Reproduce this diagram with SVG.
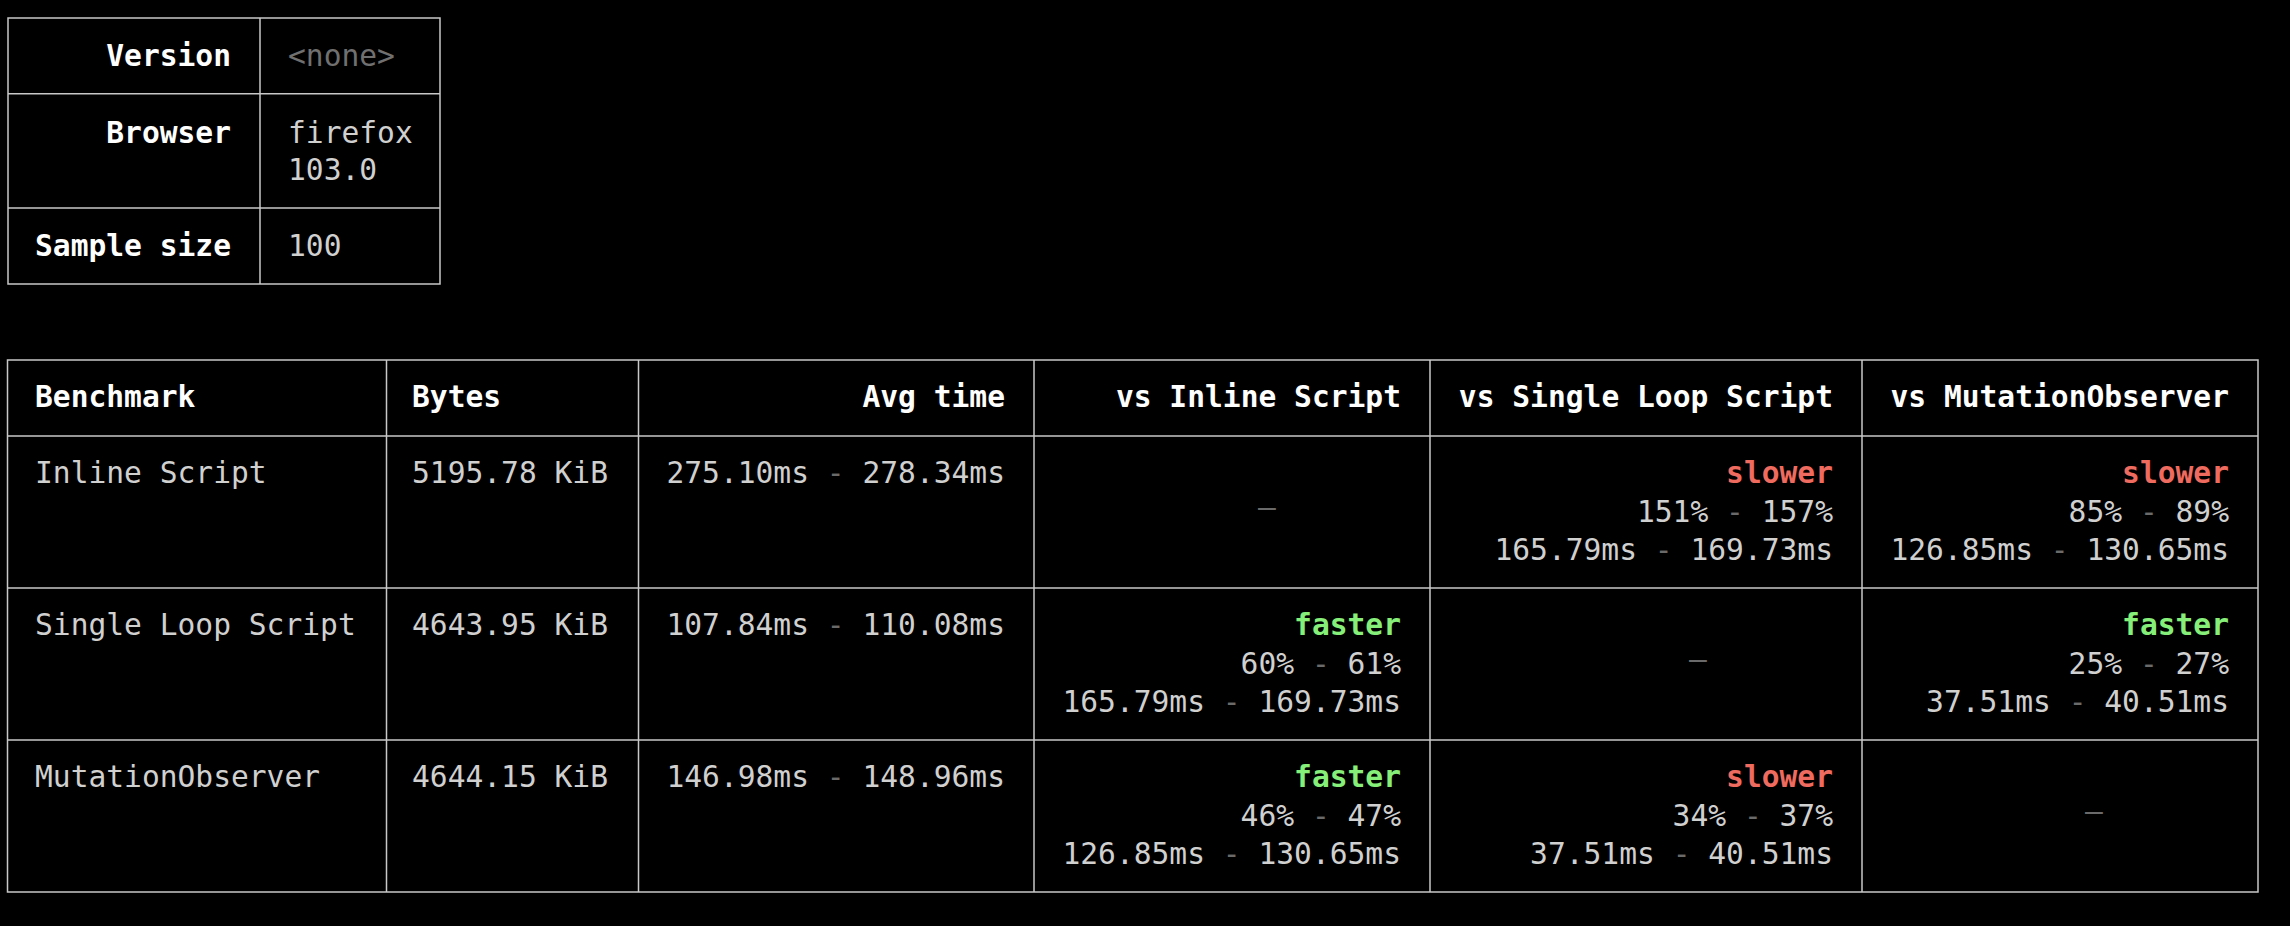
<svg xmlns="http://www.w3.org/2000/svg" width="2290" height="926" viewBox="0 0 2290 926">
<style>
text{font-family:"DejaVu Sans Mono","Liberation Mono",monospace;font-size:29.6px;fill:#d0d0d0}
.h{font-weight:bold;fill:#ffffff}
.r{text-anchor:end}
.m{text-anchor:middle}
.d{fill:#6a6a6a}
.dim{fill:#707070}
.f{font-weight:bold;fill:#86ef7a}
.s{font-weight:bold;fill:#ef6b5f}
.grid{stroke:#c8c8c8;stroke-width:1.5;fill:none}
</style>
<rect x="0" y="0" width="2290" height="926" fill="#000"/>

<g id="meta-table">
  <g class="grid">
    <rect x="8" y="18" width="432" height="266"/>
    <line x1="260" y1="18" x2="260" y2="284"/>
    <line x1="8" y1="93.7" x2="440" y2="93.7"/>
    <line x1="8" y1="208" x2="440" y2="208"/>
  </g>
  <g id="meta-version">
    <text class="h r" x="231" y="65.7">Version</text>
    <text class="dim" x="288" y="65.7">&lt;none&gt;</text>
  </g>
  <g id="meta-browser">
    <text class="h r" x="231" y="142.7">Browser</text>
    <text x="288" y="142.7">firefox</text>
    <text x="288" y="180">103.0</text>
  </g>
  <g id="meta-sample">
    <text class="h r" x="231" y="256">Sample size</text>
    <text x="288" y="256">100</text>
  </g>
</g>

<g id="results-table">
  <g class="grid">
    <rect x="7.5" y="360" width="2250.5" height="532"/>
    <line x1="386.5" y1="360" x2="386.5" y2="892"/>
    <line x1="638.5" y1="360" x2="638.5" y2="892"/>
    <line x1="1034" y1="360" x2="1034" y2="892"/>
    <line x1="1430" y1="360" x2="1430" y2="892"/>
    <line x1="1862" y1="360" x2="1862" y2="892"/>
    <line x1="7.5" y1="436" x2="2258" y2="436"/>
    <line x1="7.5" y1="588" x2="2258" y2="588"/>
    <line x1="7.5" y1="740" x2="2258" y2="740"/>
  </g>

  <g id="header-row">
    <text class="h" x="35" y="407.3">Benchmark</text>
    <text class="h" x="412" y="407.3">Bytes</text>
    <text class="h r" x="1005" y="407.3">Avg time</text>
    <text class="h r" x="1401" y="407.3">vs Inline Script</text>
    <text class="h r" x="1833" y="407.3">vs Single Loop Script</text>
    <text class="h r" x="2229" y="407.3">vs MutationObserver</text>
  </g>

  <g id="row-inline-script">
    <text x="35" y="483.3">Inline Script</text>
    <text x="412" y="483.3">5195.78 KiB</text>
    <text class="r" x="1005" y="483.3">275.10ms <tspan class="d">-</tspan> 278.34ms</text>
    <text class="m d" x="1267" y="516.5">–</text>
    <text class="s r" x="1833" y="483.3">slower</text>
    <text class="r" x="1833" y="521.7">151% <tspan class="d">-</tspan> 157%</text>
    <text class="r" x="1833" y="560.1">165.79ms <tspan class="d">-</tspan> 169.73ms</text>
    <text class="s r" x="2229" y="483.3">slower</text>
    <text class="r" x="2229" y="521.7">85% <tspan class="d">-</tspan> 89%</text>
    <text class="r" x="2229" y="560.1">126.85ms <tspan class="d">-</tspan> 130.65ms</text>
  </g>

  <g id="row-single-loop-script">
    <text x="35" y="635.3">Single Loop Script</text>
    <text x="412" y="635.3">4643.95 KiB</text>
    <text class="r" x="1005" y="635.3">107.84ms <tspan class="d">-</tspan> 110.08ms</text>
    <text class="f r" x="1401" y="635.3">faster</text>
    <text class="r" x="1401" y="673.7">60% <tspan class="d">-</tspan> 61%</text>
    <text class="r" x="1401" y="712.1">165.79ms <tspan class="d">-</tspan> 169.73ms</text>
    <text class="m d" x="1698" y="668.5">–</text>
    <text class="f r" x="2229" y="635.3">faster</text>
    <text class="r" x="2229" y="673.7">25% <tspan class="d">-</tspan> 27%</text>
    <text class="r" x="2229" y="712.1">37.51ms <tspan class="d">-</tspan> 40.51ms</text>
  </g>

  <g id="row-mutation-observer">
    <text x="35" y="787.3">MutationObserver</text>
    <text x="412" y="787.3">4644.15 KiB</text>
    <text class="r" x="1005" y="787.3">146.98ms <tspan class="d">-</tspan> 148.96ms</text>
    <text class="f r" x="1401" y="787.3">faster</text>
    <text class="r" x="1401" y="825.7">46% <tspan class="d">-</tspan> 47%</text>
    <text class="r" x="1401" y="864.1">126.85ms <tspan class="d">-</tspan> 130.65ms</text>
    <text class="s r" x="1833" y="787.3">slower</text>
    <text class="r" x="1833" y="825.7">34% <tspan class="d">-</tspan> 37%</text>
    <text class="r" x="1833" y="864.1">37.51ms <tspan class="d">-</tspan> 40.51ms</text>
    <text class="m d" x="2094" y="820.5">–</text>
  </g>
</g>
</svg>
